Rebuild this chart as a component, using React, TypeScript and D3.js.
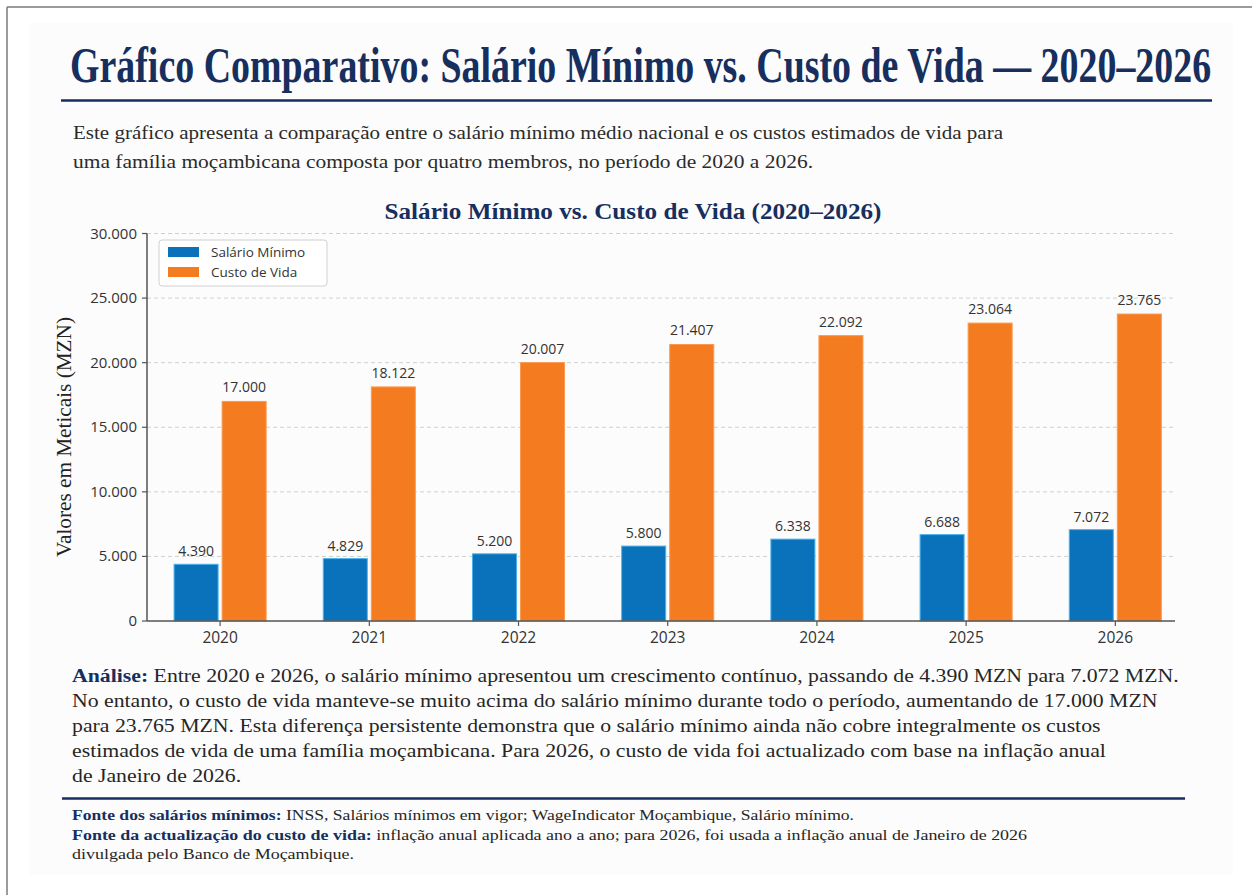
import React, { useMemo } from 'react';
import * as d3 from 'd3';

const years = ['2020', '2021', '2022', '2023', '2024', '2025', '2026'];
const salarioMinimo = [4390, 4829, 5200, 5800, 6338, 6688, 7072];
const custoDeVida = [17000, 18122, 20007, 21407, 22092, 23064, 23765];
const yTicks = [0, 5000, 10000, 15000, 20000, 25000, 30000];
const seriesNames = ['Salário Mínimo', 'Custo de Vida'];

const titleText = 'Gráfico Comparativo: Salário Mínimo vs. Custo de Vida — 2020–2026';
const introLines = [
  'Este gráfico apresenta a comparação entre o salário mínimo médio nacional e os custos estimados de vida para',
  'uma família moçambicana composta por quatro membros, no período de 2020 a 2026.',
];
const chartTitle = 'Salário Mínimo vs. Custo de Vida (2020–2026)';
const yLabel = 'Valores em Meticais (MZN)';
const analysisLabel = 'Análise:';
const analysisLines = [
  ' Entre 2020 e 2026, o salário mínimo apresentou um crescimento contínuo, passando de 4.390 MZN para 7.072 MZN.',
  'No entanto, o custo de vida manteve-se muito acima do salário mínimo durante todo o período, aumentando de 17.000 MZN',
  'para 23.765 MZN. Esta diferença persistente demonstra que o salário mínimo ainda não cobre integralmente os custos',
  'estimados de vida de uma família moçambicana. Para 2026, o custo de vida foi actualizado com base na inflação anual',
  'de Janeiro de 2026.',
];
const sourceLabels = ['Fonte dos salários mínimos:', 'Fonte da actualização do custo de vida:', ''];
const sourceLines = [
  ' INSS, Salários mínimos em vigor; WageIndicator Moçambique, Salário mínimo.',
  ' inflação anual aplicada ano a ano; para 2026, foi usada a inflação anual de Janeiro de 2026',
  'divulgada pelo Banco de Moçambique.',
];

const W = 1252;
const H = 895;
const NAVY = '#162f5e';
const BLUE = '#0a72bb';
const ORANGE = '#f47b20';
const SERIF = '"Liberation Serif", "DejaVu Serif", serif';
const SANS = '"Open Sans", "Noto Sans", sans-serif';

const locale = d3.formatLocale({ decimal: ',', thousands: '.', grouping: [3], currency: ['', ''] });
const fmt = locale.format(',d');

function makeMeasure() {
  let ctx: CanvasRenderingContext2D | null = null;
  try {
    ctx = document.createElement('canvas').getContext('2d');
  } catch (e) {
    ctx = null;
  }
  return (text: string, font: string) => {
    if (!ctx) return text.length * 8;
    ctx.font = font;
    return ctx.measureText(text).width;
  };
}

export default function App() {
  const plotLeft = 147;
  const plotRight = 1175;
  const plotTop = 233.5;
  const plotBottom = 621;

  const x = d3.scaleLinear().domain([-0.49, 6.4]).range([plotLeft, plotRight]);
  const y = d3.scaleLinear().domain([0, 30000]).range([plotBottom, plotTop]);
  const barW = 0.295;
  const gap = 0.0135;

  const analysisY = [682, 707, 732, 757, 782];
  const sourceLens = [782, 955, 282];
  const sourceY = [820, 840, 859];

  const { analysisLens, titleScale } = useMemo(() => {
    const m = makeMeasure();
    const fs = 18;
    const widths = analysisLines.map((t, i) =>
      m(t, `${fs}px "Liberation Serif"`) + (i === 0 ? m(analysisLabel, `bold ${fs}px "Liberation Serif"`) : 0)
    );
    const k = (1099 + 1093) / (widths[0] + widths[1]);
    const tw = m(titleText, 'bold 50px "Liberation Serif"');
    return { analysisLens: widths.map((w) => w * k), titleScale: tw > 0 ? 1142 / tw : 0.72 };
  }, []);

  return (
    <svg width={W} height={H} style={{ position: 'absolute', left: 0, top: 0, background: '#ffffff' }}>
      <rect x={0} y={0} width={W} height={H} fill="#ffffff" />
      <rect x={30} y={23} width={1203} height={852} fill="#fcfcfc" />
      <line x1={7} y1={7} x2={W} y2={7} stroke="#7a7a7a" strokeWidth={1.5} />
      <line x1={7} y1={7} x2={7} y2={H} stroke="#7a7a7a" strokeWidth={1.5} />

      <text transform={`translate(70,82) scale(${titleScale},1)`} x={0} y={0} fontFamily={SERIF}
        fontWeight="bold" fontSize={50} fill={NAVY}>{titleText}</text>
      <line x1={61} x2={1212} y1={100.5} y2={100.5} stroke={NAVY} strokeWidth={2.5} />

      {introLines.map((t, i) => (
        <text key={i} x={73} y={139 + i * 29} fontFamily={SERIF} fontSize={19} fill="#2b2b2b"
          textLength={i === 0 ? 930 : 740} lengthAdjust="spacingAndGlyphs">{t}</text>
      ))}

      <text x={633} y={219} textAnchor="middle" fontFamily={SERIF} fontWeight="bold" fontSize={23} fill={NAVY}
        textLength={497} lengthAdjust="spacingAndGlyphs">{chartTitle}</text>

      {/* gridlines */}
      {yTicks.slice(1).map((t) => (
        <line key={t} x1={plotLeft} x2={plotRight} y1={y(t)} y2={y(t)} stroke="#cfcfcf" strokeWidth={1}
          strokeDasharray="4,3" />
      ))}

      {/* bars */}
      {years.map((yr, i) => (
        <g key={yr}>
          <rect x={x(i - gap - barW)} y={y(salarioMinimo[i])} width={x(barW) - x(0)}
            height={y(0) - y(salarioMinimo[i])} fill={BLUE} stroke="#49b2ea" strokeWidth={1} />
          <rect x={x(i + gap)} y={y(custoDeVida[i])} width={x(barW) - x(0)}
            height={y(0) - y(custoDeVida[i])} fill={ORANGE} stroke="#f99a50" strokeWidth={1} />
          <text x={x(i - gap - barW / 2)} y={y(salarioMinimo[i]) - 8} textAnchor="middle" fontFamily={SANS}
            fontSize={14} fill="#333">{fmt(salarioMinimo[i])}</text>
          <text x={x(i + gap + barW / 2)} y={y(custoDeVida[i]) - 9} textAnchor="middle" fontFamily={SANS}
            fontSize={14} fill="#333">{fmt(custoDeVida[i])}</text>
        </g>
      ))}

      {/* axes */}
      <line x1={plotLeft} x2={plotLeft} y1={plotTop} y2={plotBottom} stroke="#555" strokeWidth={1.5} />
      <line x1={plotLeft} x2={plotRight} y1={plotBottom} y2={plotBottom} stroke="#555" strokeWidth={1.5} />
      {yTicks.map((t) => (
        <g key={t}>
          <line x1={plotLeft - 5} x2={plotLeft} y1={y(t)} y2={y(t)} stroke="#555" strokeWidth={1.2} />
          <text x={plotLeft - 10} y={y(t) + 5} textAnchor="end" fontFamily={SANS} fontSize={15} fill="#333">
            {fmt(t)}
          </text>
        </g>
      ))}
      {years.map((yr, i) => (
        <g key={yr}>
          <line x1={x(i)} x2={x(i)} y1={plotBottom} y2={plotBottom + 5} stroke="#555" strokeWidth={1.2} />
          <text x={x(i)} y={plotBottom + 22} textAnchor="middle" fontFamily={SANS} fontSize={15.5} fill="#333">
            {yr}
          </text>
        </g>
      ))}

      <text transform="translate(71,437) rotate(-90)" textAnchor="middle" fontFamily={SERIF} fontSize={20}
        fill="#222" textLength={240} lengthAdjust="spacingAndGlyphs">{yLabel}</text>

      {/* legend */}
      <rect x={159} y={240} width={168} height={46} rx={3} fill="#ffffff" stroke="#d0d0d0" strokeWidth={1} />
      {seriesNames.map((n, i) => (
        <g key={n}>
          <rect x={168} y={247 + i * 20} width={31} height={10} fill={i === 0 ? BLUE : ORANGE} />
          <text x={211} y={257 + i * 20} fontFamily={SANS} fontSize={13.5} fill="#333">{n}</text>
        </g>
      ))}

      {/* analysis */}
      {analysisLines.map((t, i) => (
        <text key={i} x={72} y={analysisY[i]} fontFamily={SERIF} fontSize={18.5} fill="#262626"
          textLength={analysisLens[i]} lengthAdjust="spacingAndGlyphs">
          {i === 0 ? <tspan fontWeight="bold" fill={NAVY}>{analysisLabel}</tspan> : null}
          <tspan>{t}</tspan>
        </text>
      ))}

      <line x1={62} x2={1185} y1={798.5} y2={798.5} stroke={NAVY} strokeWidth={2.5} />

      {sourceLines.map((t, i) => (
        <text key={i} x={72} y={sourceY[i]} fontFamily={SERIF} fontSize={15} fill="#262626"
          textLength={sourceLens[i]} lengthAdjust="spacingAndGlyphs">
          {sourceLabels[i] ? <tspan fontWeight="bold" fill={NAVY}>{sourceLabels[i]}</tspan> : null}
          <tspan>{t}</tspan>
        </text>
      ))}
    </svg>
  );
}
